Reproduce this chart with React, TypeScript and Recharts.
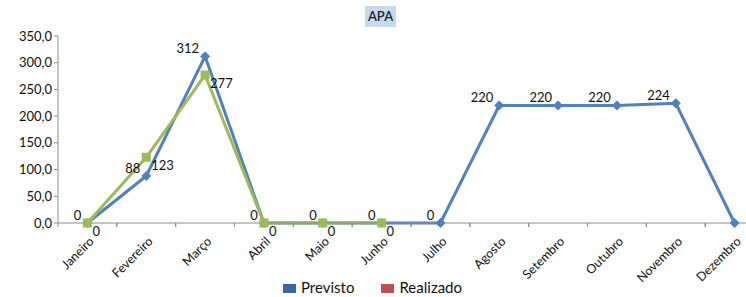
import React from 'react';
import { LineChart, Line, XAxis, YAxis, LabelList } from 'recharts';

const months = ['Janeiro', 'Fevereiro', 'Março', 'Abril', 'Maio', 'Junho', 'Julho', 'Agosto', 'Setembro', 'Outubro', 'Novembro', 'Dezembro'];
const previsto = [0, 88, 312, 0, 0, 0, 0, 220, 220, 220, 224, 0];
const realizado: (number | null)[] = [0, 123, 277, 0, 0, 0, null, null, null, null, null, null];
const yTicks = [0, 50, 100, 150, 200, 250, 300, 350];
const title = 'APA';
const seriesNames = ['Previsto', 'Realizado'];

const data = months.map((m, i) => ({ month: m, previsto: previsto[i], realizado: realizado[i] }));

const FONT = 'Lato, "Open Sans", sans-serif';
const BLUE = '#4F81BD';
const GREEN = '#9BBB59';
const AXIS = '#8C8C8C';
const CHART_H = 297;
const X_AXIS_H = 74;
const PLOT_BOTTOM = CHART_H - X_AXIS_H;
const BAND = 706 / 12;

const Diamond = (props: any) => {
  const { cx, cy } = props;
  if (cx == null || cy == null || props.value == null) return null;
  const r = 4.5;
  return <polygon points={`${cx},${cy - r} ${cx + r},${cy} ${cx},${cy + r} ${cx - r},${cy}`} fill={BLUE} stroke={BLUE} />;
};

const Square = (props: any) => {
  const { cx, cy } = props;
  if (cx == null || cy == null || props.value == null) return null;
  const s = 9;
  return <rect x={cx - s / 2} y={cy - s / 2} width={s} height={s} fill={GREEN} />;
};

const PrevLabel = (props: any) => {
  const { x, y, value, index } = props;
  if (value == null || index === months.length - 1) return null;
  return <text x={x - 6} y={y - 8} textAnchor="end" dominantBaseline="central" fontSize={13} fontFamily={FONT} fill="#111">{value}</text>;
};

const RealLabel = (props: any) => {
  const { x, y, value } = props;
  if (value == null) return null;
  return <text x={x + 5} y={y + 8} textAnchor="start" dominantBaseline="central" fontSize={13} fontFamily={FONT} fill="#111">{value}</text>;
};

const XTick = (props: any) => {
  const { x, payload } = props;
  const half = BAND / 2;
  const ty = PLOT_BOTTOM + 16;
  const tx = x + 4;
  return (
    <g>
      <line x1={x - half} y1={PLOT_BOTTOM} x2={x - half} y2={PLOT_BOTTOM + 4} stroke={AXIS} />
      <line x1={x + half} y1={PLOT_BOTTOM} x2={x + half} y2={PLOT_BOTTOM + 4} stroke={AXIS} />
      <text x={tx} y={ty} transform={`rotate(-45, ${tx}, ${ty})`} textAnchor="end" dominantBaseline="central" fontSize={12.5} fontFamily={FONT} fill="#111">{payload.value}</text>
    </g>
  );
};

export default function App() {
  return (
    <div style={{ position: 'absolute', left: 0, top: 0, width: 746, height: 297, overflow: 'hidden', background: '#fff' }}>
      <div style={{ position: 'absolute', left: 365, top: 6, width: 31, height: 21, background: '#C6D9F1', fontFamily: FONT, fontSize: 13, fontWeight: 600, color: '#222', textAlign: 'center', lineHeight: '21px' }}>{title}</div>
      <LineChart width={780} height={CHART_H} data={data} margin={{ top: 36, right: 16, bottom: 0, left: 8 }}>
        <XAxis dataKey="month" scale="band" interval={0} height={X_AXIS_H} axisLine={{ stroke: AXIS }} tickLine={false} tick={<XTick />} />
        <YAxis domain={[0, 350]} ticks={yTicks} width={50} axisLine={{ stroke: AXIS }} tickLine={{ stroke: AXIS }} tickSize={4}
          tick={{ fontSize: 13, fontFamily: FONT, fill: '#111' }}
          tickFormatter={(v: number) => v.toFixed(1).replace('.', ',')} />
        <Line dataKey="previsto" stroke={BLUE} strokeWidth={3} dot={<Diamond />} activeDot={false} isAnimationActive={false}>
          <LabelList dataKey="previsto" content={<PrevLabel />} />
        </Line>
        <Line dataKey="realizado" stroke={GREEN} strokeWidth={3} dot={<Square />} activeDot={false} isAnimationActive={false}>
          <LabelList dataKey="realizado" content={<RealLabel />} />
        </Line>
      </LineChart>
      <div style={{ position: 'absolute', left: 283, top: 278, display: 'flex', alignItems: 'center', fontFamily: FONT, fontSize: 15, lineHeight: '18px', color: '#111' }}>
        <span style={{ display: 'inline-block', width: 13, height: 9, background: '#3A67A3', marginRight: 5, marginTop: 2 }} />
        <span style={{ marginRight: 27 }}>{seriesNames[0]}</span>
        <span style={{ display: 'inline-block', width: 13, height: 9, background: '#C0504D', marginRight: 5, marginTop: 2 }} />
        <span>{seriesNames[1]}</span>
      </div>
    </div>
  );
}
